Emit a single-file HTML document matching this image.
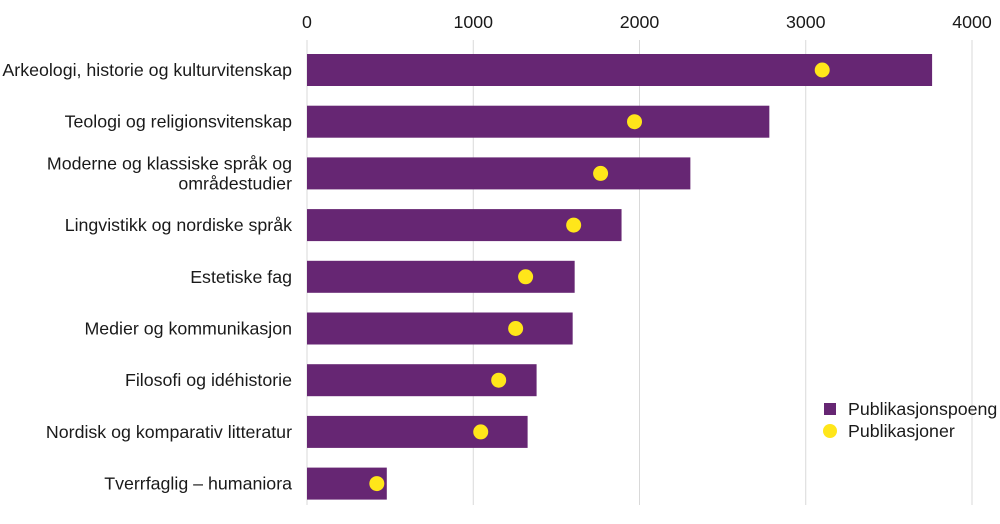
<!DOCTYPE html>
<html><head><meta charset="utf-8"><style>
body{margin:0;background:#fff;font-family:"Liberation Sans",sans-serif}
</style></head><body>
<svg id="c" width="1000" height="524" style="display:block" font-family="Liberation Sans, sans-serif" font-size="17.8" fill="#1a1a1a"></svg>
<script>
const categories=["Arkeologi, historie og kulturvitenskap","Teologi og religionsvitenskap","Moderne og klassiske språk og|områdestudier","Lingvistikk og nordiske språk","Estetiske fag","Medier og kommunikasjon","Filosofi og idéhistorie","Nordisk og komparativ litteratur","Tverrfaglig – humaniora"];
const poeng=[3760,2781,2306,1892,1610,1598,1381,1327,480];
const publikasjoner=[3099,1970,1766,1604,1315,1255,1153,1045,420];
const ticks=[0,1000,2000,3000,4000];
const svg=document.getElementById('c');const NS='http://www.w3.org/2000/svg';
const x=v=>307+v*0.16625;const y=i=>70+i*51.7;
function mk(t,a,p){const e=document.createElementNS(NS,t);for(const k in a)e.setAttribute(k,a[k]);(p||svg).appendChild(e);return e;}
ticks.forEach(t=>{const g=mk('line',{x1:x(t),x2:x(t),y1:40,y2:505,stroke:'#d9d9d9','stroke-width':1});

const l=mk('text',{x:x(t),y:28,'text-anchor':'middle'});l.textContent=t;
});
categories.forEach((c,i)=>{const b=mk('rect',{x:x(0),y:y(i)-16,width:x(poeng[i])-x(0),height:32,fill:'#662673'});

const d=mk('circle',{cx:x(publikasjoner[i]),cy:y(i),r:7.5,fill:'#ffe61a'});

const parts=c.split('|');const t=mk('text',{x:292,'text-anchor':'end'});

parts.forEach((p,j)=>{const s=mk('tspan',{x:292,y:y(i)+6+(j-(parts.length-1)/2)*20},t);s.textContent=p;});});
const l1=mk('rect',{x:824,y:403,width:12,height:12,fill:'#662673'});
const t1=mk('text',{x:848,y:415});t1.textContent='Publikasjonspoeng';
const l2=mk('circle',{cx:830,cy:431,r:7,fill:'#ffe61a'});
const t2=mk('text',{x:848,y:437});t2.textContent='Publikasjoner';
</script></body></html>
